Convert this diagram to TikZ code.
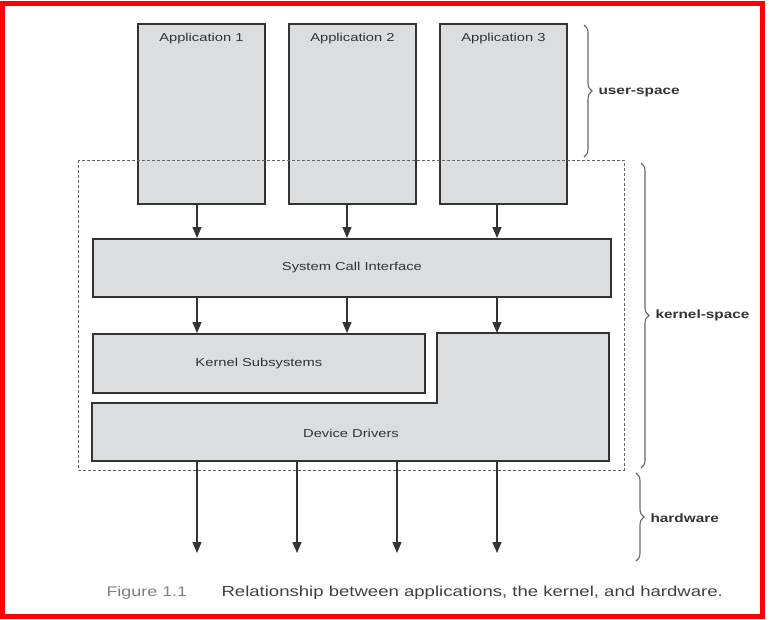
\documentclass[tikz,border=0pt]{standalone}
\usepackage{fontspec}
\setmainfont[FakeStretch=1.28]{Liberation Sans}
\newfontfamily\capfont[FakeStretch=1.28]{Liberation Sans}
\usepackage{xcolor}
\usetikzlibrary{positioning,arrows.meta,decorations.pathreplacing}

\definecolor{boxfill}{HTML}{DCDDDF}
\definecolor{boxline}{HTML}{333333}
\definecolor{bracecol}{HTML}{666666}

\tikzset{
  box/.style={draw=boxline,fill=boxfill,line width=1.8pt},
  appbox/.style={box,anchor=north west,minimum width=127pt,minimum height=180pt,inner sep=0pt},
  arr/.style={draw=boxline,line width=1.4pt,-{Triangle[length=11pt,width=9pt]}},
  brace/.style={draw=bracecol,line width=1.1pt,decorate,decoration={brace,amplitude=8pt}},
  side/.style={anchor=west,font=\fontsize{12}{14}\selectfont\bfseries,text=boxline}
}

\begin{document}
\begin{tikzpicture}[x=1pt,y=-1pt,font=\fontsize{11.5}{13}\selectfont,text=boxline]
  \useasboundingbox (0,0) rectangle (769,619);
  \draw[red,line width=5pt] (2.5,3.5) rectangle (762.5,616);

  % applications
  \node[appbox,label={[anchor=north,yshift=-7pt]north:Application 1}] (app1) at (137,23) {};
  \node[appbox,label={[anchor=north,yshift=-7pt]north:Application 2}] (app2) at (288,23) {};
  \node[appbox,label={[anchor=north,yshift=-7pt]north:Application 3}] (app3) at (439,23) {};

  % kernel blocks
  \node[box,anchor=north west,minimum width=518pt,minimum height=58pt] (sci) at (92,238) {System Call Interface};
  \node[box,anchor=north west,minimum width=332pt,minimum height=59pt] (ks) at (92,333) {Kernel Subsystems};
  \draw[box] (92,403) -- (437,403) -- (437,333) -- (609,333) -- (609,461) -- (92,461) -- cycle;
  \node (dd) at (351,433) {Device Drivers};
  \coordinate (ddtop) at (609,333);
  \coordinate (ddbot) at (92,461);

  % kernel-space boundary
  \draw[bracecol,line width=0.9pt,dash pattern=on 3pt off 2pt] (78,160) rectangle (624,470);

  % arrow columns
  \coordinate (c1) at (197,0);
  \coordinate (c2) at (347,0);
  \coordinate (c3) at (497,0);
  \coordinate (c4) at (297,0);
  \coordinate (c5) at (397,0);
  \coordinate (hw) at (0,553);

  \draw[arr] (app1.south -| c1) -- (sci.north -| c1);
  \draw[arr] (app2.south -| c2) -- (sci.north -| c2);
  \draw[arr] (app3.south -| c3) -- (sci.north -| c3);
  \draw[arr] (sci.south -| c1) -- (ks.north -| c1);
  \draw[arr] (sci.south -| c2) -- (ks.north -| c2);
  \draw[arr] (sci.south -| c3) -- (ddtop -| c3);
  \foreach \c in {c1,c4,c5,c3}
    \draw[arr] (ddbot -| \c) -- (hw -| \c);

  % braces
  \draw[brace] (584,25) -- (584,157) coordinate[midway,xshift=11pt] (ustip);
  \node[side] (user) at ([yshift=-2pt]ustip) {user-space};
  \draw[brace] (641,163) -- (641,468) coordinate[midway,xshift=11pt] (kstip);
  \node[side] (kern) at (kstip) {kernel-space};
  \draw[brace] (636,473) -- (636,561) coordinate[midway,xshift=11pt] (hwtip);
  \node[side] (hard) at ([yshift=-1pt]hwtip) {hardware};

  % caption
  \node[anchor=west,font=\capfont\fontsize{14}{16}\selectfont,text=gray] (fig) at (103,593) {Figure 1.1};
  \node[anchor=west,font=\capfont\fontsize{14.5}{16}\selectfont,text=black!75] (cap) at (218,593) {Relationship between applications, the kernel, and hardware.};
\end{tikzpicture}
\end{document}
